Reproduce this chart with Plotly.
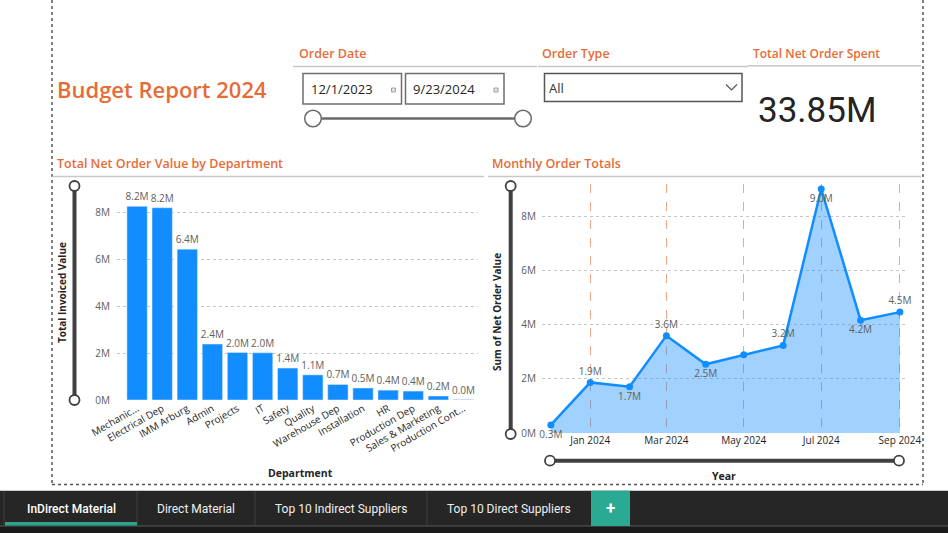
import plotly.graph_objects as go

# ---------------- data ----------------
departments = ["Mechanic...", "Electrical Dep", "IMM Arburg", "Admin", "Projects", "IT",
               "Safety", "Quality", "Warehouse Dep", "Installation", "HR",
               "Production Dep", "Sales & Marketing", "Production Cont..."]
dept_values = [8.24e6, 8.18e6, 6.42e6, 2.38e6, 2.02e6, 2.01e6, 1.36e6, 1.07e6,
               0.66e6, 0.51e6, 0.42e6, 0.38e6, 0.17e6, 0.02e6]

months = ["2023-12-01", "2024-01-01", "2024-02-01", "2024-03-01", "2024-04-01",
          "2024-05-01", "2024-06-01", "2024-07-01", "2024-08-01", "2024-09-01"]
monthly_values = [0.30e6, 1.87e6, 1.71e6, 3.60e6, 2.54e6, 2.89e6, 3.24e6, 9.02e6, 4.17e6, 4.47e6]

bar_yticks = [0, 2e6, 4e6, 6e6, 8e6]
bar_yticktext = ["0M", "2M", "4M", "6M", "8M"]
line_xticks = ["2024-01-01", "2024-03-01", "2024-05-01", "2024-07-01", "2024-09-01"]
line_xticktext = ["Jan 2024", "Mar 2024", "May 2024", "Jul 2024", "Sep 2024"]

total_spent = "33.85M"
tabs = ["InDirect Material", "Direct Material", "Top 10 Indirect Suppliers", "Top 10 Direct Suppliers"]

# ---------------- style ----------------
W, H = 948, 533
ORANGE = "#E66C37"
BLUE = "#118DFF"
DARK = "#252423"
GRAY = "#605E5C"
FONT = "Open Sans"
line_label_pos = ["bottom center", "top center", "bottom center", "top center", "bottom center",
                  "top center", "top center", "bottom center", "bottom center", "top center"]
line_label_show = [True, True, True, True, True, False, True, True, True, True]


def px(x):
    return x / W


def py(y):
    return 1 - y / H


def fmt_m(v):
    return f"{v / 1e6:.1f}M"


fig = go.Figure()

fig.add_trace(go.Bar(
    x=departments, y=dept_values, marker_color=BLUE,
    text=[fmt_m(v) for v in dept_values], textposition="outside",
    constraintext="none", cliponaxis=False,
    textfont=dict(size=10, color=GRAY, family=FONT),
    xaxis="x", yaxis="y", showlegend=False,
))

fig.add_trace(go.Scatter(
    x=months, y=monthly_values, mode="lines+markers+text",
    fill="tozeroy", fillcolor="rgba(17,141,255,0.40)",
    line=dict(color=BLUE, width=2.5), marker=dict(color=BLUE, size=7),
    text=[fmt_m(v) if s else "" for v, s in zip(monthly_values, line_label_show)],
    textposition=line_label_pos, cliponaxis=False,
    textfont=dict(size=10, color=GRAY, family=FONT),
    xaxis="x2", yaxis="y2", showlegend=False,
))

fig.update_layout(
    width=W, height=H, margin=dict(l=0, r=0, t=0, b=0, pad=0, autoexpand=False),
    paper_bgcolor="white", plot_bgcolor="white",
    font=dict(family=FONT, color=DARK),
    bargap=0.19, showlegend=False,
    xaxis=dict(domain=[px(117), px(478)], range=[-0.8, 13.58], type="category",
               tickangle=-30, showgrid=False, showline=False, ticks="", automargin=False,
               tickfont=dict(size=10, color="#1E1E1E", family=FONT), anchor="y"),
    yaxis=dict(domain=[py(400), py(188.5)], range=[0, 9e6], tickvals=bar_yticks,
               ticktext=bar_yticktext, showgrid=True, gridcolor="#C8C6C4", griddash="dot",
               zeroline=False, showline=False, ticks="", ticklabelstandoff=6, automargin=False,
               tickfont=dict(size=10, color=GRAY, family=FONT), anchor="x"),
    xaxis2=dict(domain=[px(542), px(905)], type="date", range=["2023-11-24", "2024-09-05"],
                tickvals=line_xticks, ticktext=line_xticktext, showgrid=True, automargin=False,
                gridcolor="#F0A884", griddash="dash", gridwidth=1, showline=False, ticks="",
                zeroline=False, tickfont=dict(size=10, color="#1E1E1E", family=FONT), anchor="y2"),
    yaxis2=dict(domain=[py(433), py(184.2)], range=[0, 9.2e6], tickvals=bar_yticks,
                ticktext=bar_yticktext, showgrid=True, gridcolor="#C8C6C4", griddash="dot",
                zeroline=False, showline=False, ticks="", ticklabelstandoff=5, automargin=False,
                tickfont=dict(size=10, color=GRAY, family=FONT), anchor="x2"),
)

shapes = []
ann = []


def line(x0, y0, x1, y1, color, width=1.0, dash="solid"):
    shapes.append(dict(type="line", xref="paper", yref="paper", x0=px(x0), y0=py(y0),
                       x1=px(x1), y1=py(y1), line=dict(color=color, width=width, dash=dash)))


def rect(x0, y0, x1, y1, fill, color=None, width=0):
    shapes.append(dict(type="rect", xref="paper", yref="paper", x0=px(x0), y0=py(y0),
                       x1=px(x1), y1=py(y1), fillcolor=fill,
                       line=dict(color=color or fill, width=width)))


def circle(cx, cy, r, color, width=1.5):
    shapes.append(dict(type="circle", xref="paper", yref="paper", x0=px(cx - r), y0=py(cy - r),
                       x1=px(cx + r), y1=py(cy + r), fillcolor="white",
                       line=dict(color=color, width=width)))


def text(x, y, s, size, color, xanchor="left", weight="normal", family=FONT, angle=0):
    ann.append(dict(x=px(x), y=py(y), xref="paper", yref="paper", text=s, showarrow=False,
                    xanchor=xanchor, yanchor="middle", textangle=angle,
                    font=dict(size=size, color=color, family=family, weight=weight)))


# dotted page border
line(52, 0, 52, 485, "#555555", 1.5, "dot")
line(923, 0, 923, 485, "#555555", 1.5, "dot")
line(52, 484.5, 923, 484.5, "#555555", 1.5, "dot")

# header lines
line(293, 66.5, 537, 66.5, "#C8C8C8", 1.5)
line(538, 66.5, 748, 66.5, "#C8C8C8", 1.5)
line(748, 65.7, 921, 65.7, "#C8C8C8", 1.5)
line(52, 176.5, 484, 176.5, "#C8C8C8", 1.5)
line(488, 176.5, 921, 176.5, "#C8C8C8", 1.5)

# header texts
text(55, 89, "Budget Report 2024", 22, ORANGE, weight=600)
text(297, 53.5, "Order Date", 12.5, ORANGE, weight=600)
text(540, 53.5, "Order Type", 12.5, ORANGE, weight=600)
text(751, 53, "Total Net Order Spent", 12, ORANGE, weight=600)
text(55, 163.5, "Total Net Order Value by Department", 12.5, ORANGE, weight=600)
text(490, 163.5, "Monthly Order Totals", 12.5, ORANGE, weight=600)

# date boxes
rect(303, 73.5, 401.5, 104, "white", "#6E6E6E", 1.5)
rect(405.5, 73.5, 504, 104, "white", "#6E6E6E", 1.5)
text(309, 89.5, "12/1/2023", 13, DARK)
text(411, 89.5, "9/23/2024", 13, DARK)
rect(391.5, 88, 395.5, 92, "#E4E4E4", "#A0A0A0", 1)
rect(494, 88, 498, 92, "#E4E4E4", "#A0A0A0", 1)
# date slider
line(313, 118.5, 523, 118.5, "#6A6A6A", 2.5)
circle(313, 118.5, 8.3, "#6A6A6A", 1.5)
circle(523, 118.5, 8.3, "#6A6A6A", 1.5)

# dropdown
rect(544.5, 73.5, 742, 101.5, "white", "#555555", 1.5)
text(547, 88, "All", 13, "#333333")
shapes.append(dict(type="path", xref="paper", yref="paper",
                   path=f"M {px(726)} {py(84.5)} L {px(731.5)} {py(90)} L {px(737)} {py(84.5)}",
                   line=dict(color="#555555", width=1.2)))

# card value
text(817, 110, total_spent, 35, DARK, xanchor="center", family="Roboto")

# chart axis titles
text(62, 293, "Total Invoiced Value", 10, DARK, xanchor="center", weight="bold", angle=-90)
text(300, 473, "Department", 10.5, DARK, xanchor="center", weight="bold")
text(497, 312, "Sum of Net Order Value", 10, DARK, xanchor="center", weight="bold", angle=-90)
text(724, 476, "Year", 10.5, DARK, xanchor="center", weight="bold")

# chart sliders
line(74.5, 186, 74.5, 400, "#404040", 4)
circle(74.5, 186, 5, "#404040", 1.8)
circle(74.5, 400, 5, "#404040", 1.8)
line(510.7, 186, 510.7, 434, "#404040", 4)
circle(510.7, 186, 5, "#404040", 1.8)
circle(510.7, 434, 5, "#404040", 1.8)
line(550, 460.7, 899, 460.7, "#404040", 4)
circle(550, 460.7, 5, "#404040", 1.8)
circle(899, 460.7, 5, "#404040", 1.8)

# tab bar
rect(0, 490.7, 948, 526, "#262626")
rect(0, 526, 948, 533, "#1A1A1A")
line(0, 526, 948, 526, "#5A5A5A", 1.2)
for xs in (4, 137, 255, 427):
    line(xs, 491, xs, 526, "#3E3E3E", 1)
rect(5, 522, 137, 525.5, "#2AA58E")
rect(591, 490.7, 630, 526, "#2AAA92")
tab_centers = [71, 196, 341, 509]
for i, (label, cx) in enumerate(zip(tabs, tab_centers)):
    text(cx, 509, label, 12, "#FFFFFF" if i == 0 else "#F0F0F0", xanchor="center",
         family="Roboto", weight=500 if i == 0 else "normal")
text(610.5, 508, "+", 17, "#FFFFFF", xanchor="center", weight="bold", family="Roboto")

fig.update_layout(shapes=shapes, annotations=ann)
fig.write_html("out.html", config={"displayModeBar": False})
